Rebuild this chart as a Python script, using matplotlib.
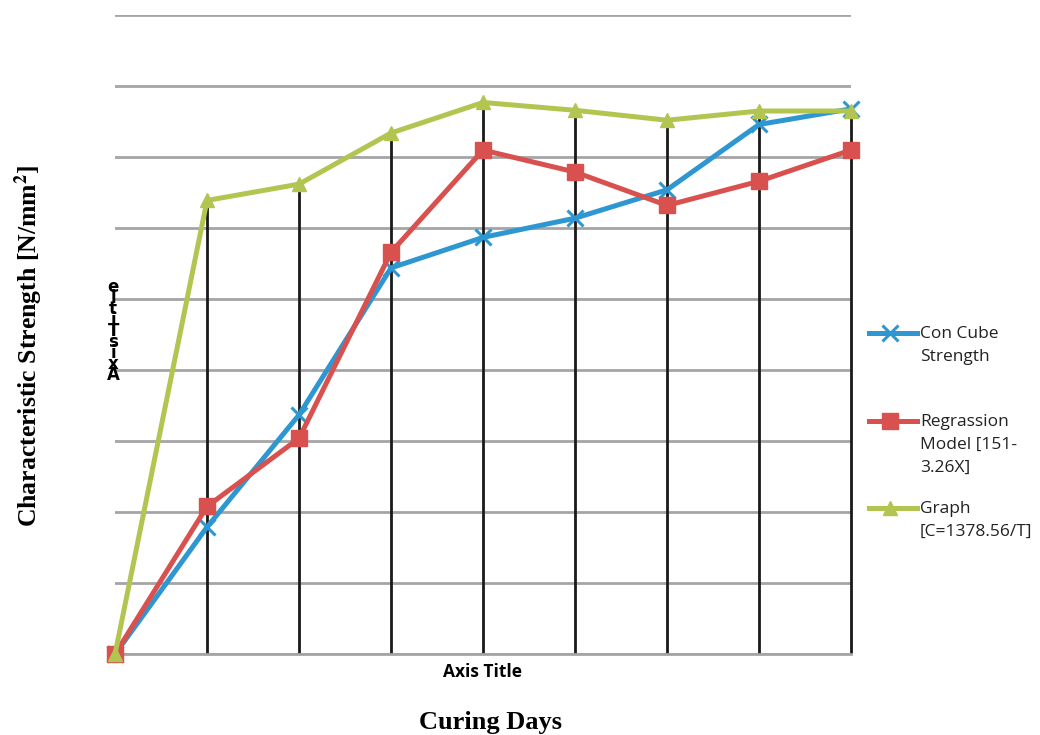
import matplotlib
matplotlib.use("Agg")
import matplotlib.pyplot as plt
from matplotlib.lines import Line2D

# curing-day categories (no tick labels shown on the chart)
days = list(range(9))
con_cube = [0, 17.9, 33.7, 54.4, 58.7, 61.4, 65.4, 74.6, 76.8]
regression = [0, 20.8, 30.4, 56.6, 71.0, 67.9, 63.2, 66.6, 71.0]
graph_c = [0, 63.9, 66.2, 73.4, 77.7, 76.6, 75.2, 76.5, 76.5]

labels = ["Con Cube\nStrength", "Regrassion\nModel [151-\n3.26X]", "Graph\n[C=1378.56/T]"]
colors = ["#2e97d1", "#d9514e", "#b3c551"]
markers = ["x", "s", "^"]
msizes = [11, 11, 10]

plt.rcParams["mathtext.fontset"] = "stix"
fig = plt.figure(figsize=(10.4, 7.35), dpi=100)
ax = fig.add_axes([0.1106, 0.110, 0.7077, 0.8694])

ax.set_xlim(0, 8)
ax.set_ylim(0, 90)
ax.set_yticks(range(0, 91, 10))
ax.yaxis.grid(True, color="#a5a5a8", lw=2)
ax.set_axisbelow(True)
for s in ["left", "right", "top"]:
    ax.spines[s].set_visible(False)
ax.spines["bottom"].set_color("#a5a5a8")
ax.spines["bottom"].set_linewidth(2)
ax.tick_params(left=False, bottom=False, labelleft=False, labelbottom=False)

# drop lines from highest series to the axis
top = [max(a, b, c) for a, b, c in zip(con_cube, regression, graph_c)]
ax.vlines(days, 0, top, color="#1a1a1a", lw=2, zorder=2, clip_on=False)

series = [con_cube, regression, graph_c]
for vals, c, m, ms in zip(series, colors, markers, msizes):
    ax.plot(days, vals, color=c, lw=3.6, marker=m, ms=ms, mew=2.2 if m == "x" else 1,
            mec=c, mfc=c, zorder=3, clip_on=False)

# stray rotated axis title rendered as stacked letters
ax.text(-0.02, 45.5, "e\nl\nt\ni\nT\ns\ni\nx\nA", fontsize=12, fontweight="bold",
        family="DejaVu Sans", ha="center", va="center", linespacing=0.5)

fig.text(0.464, 0.086, "Axis Title", fontsize=12.5, fontweight="bold",
         family="Open Sans", ha="center", va="center")
fig.text(0.472, 0.017, "Curing Days", fontsize=19, fontweight="bold",
         family="Liberation Serif", ha="center", va="center")
fig.text(0.028, 0.53, r"Characteristic Strength [N/mm$^{\mathbf{2}}$]", fontsize=18.5,
         fontweight="bold", family="Liberation Serif", rotation=90,
         ha="center", va="center")

# legend drawn by hand so the key sits on the first label line
leg_y = [333, 421, 508]
for y, lab, c, m, ms in zip(leg_y, labels, colors, markers, msizes):
    fy = 1 - y / 735
    fig.add_artist(Line2D([869 / 1040, 917 / 1040], [fy, fy], color=c, lw=3.6,
                          transform=fig.transFigure))
    fig.add_artist(Line2D([890 / 1040], [fy], color=c, marker=m, ms=ms,
                          mew=2.2 if m == "x" else 1, mec=c, mfc=c,
                          transform=fig.transFigure))
    fig.text(920 / 1040, fy + 0.010, lab, fontsize=12.5, family="Open Sans",
             ha="left", va="top", linespacing=1.6, color="#222222")

fig.savefig("out.png", dpi=100)
